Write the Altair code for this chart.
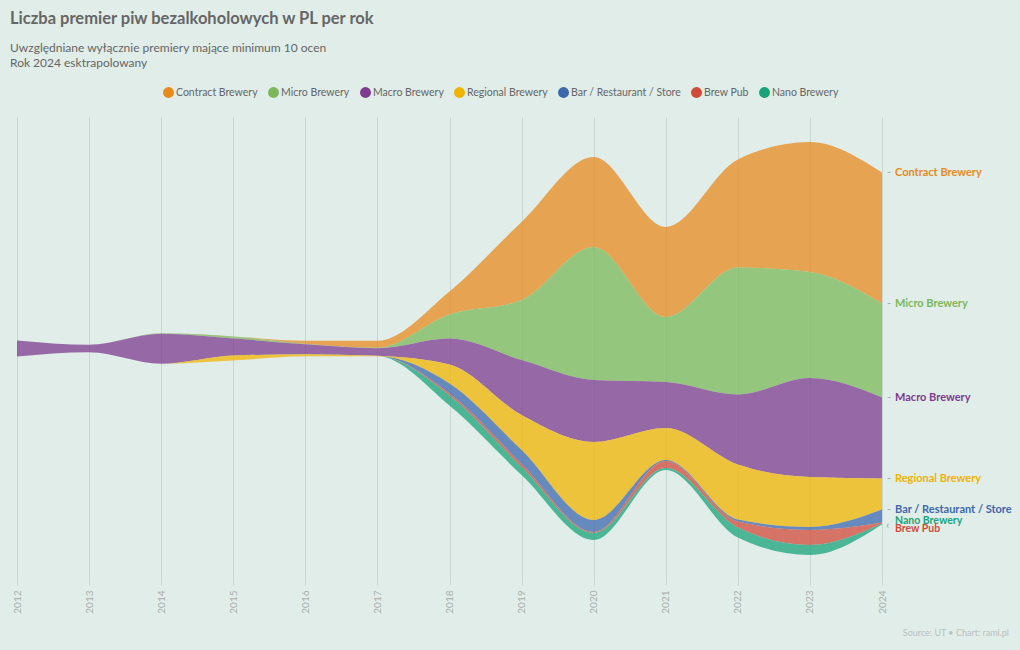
import altair as alt
import pandas as pd

FONT = "Lato"

years = list(range(2012, 2025))
categories = ["Contract Brewery", "Micro Brewery", "Macro Brewery", "Regional Brewery",
              "Bar / Restaurant / Store", "Brew Pub", "Nano Brewery"]
colors = ["#e8891e", "#7cb85a", "#7e3b8f", "#f0b400", "#3d68ad", "#d14b3a", "#1aa37a"]

contract = [0, 0, 0, 0, 3, 7, 23, 78, 90, 90, 108, 130, 131]
micro    = [0, 0, 0.5, 2, 0.5, 0.5, 24, 60, 133, 65, 127, 106, 94]
macro    = [16, 7.5, 30, 17, 10, 7.5, 26, 55, 62, 46, 70, 99, 81]
regional = [0, 0, 0, 5, 2, 0.5, 19, 35, 78, 32, 55, 50, 31]
bar      = [0, 0, 0, 0, 0, 0, 10, 14, 12, 1, 2, 3, 13]
brewpub  = [0, 0, 0, 0, 0, 0, 2, 3, 1, 7, 6, 15, 1]
nano     = [0, 0, 0, 0, 0, 0, 10, 8, 7, 2, 10, 10, 1]

TITLE = "Liczba premier piw bezalkoholowych w PL per rok"
SUB1 = "Uwzględniane wyłącznie premiery mające minimum 10 ocen"
SUB2 = "Rok 2024 esktrapolowany"
SOURCE = "Source: UT • Chart: rami.pl"

series = [contract, micro, macro, regional, bar, brewpub, nano]
rows = []
for i, (cat, vals) in enumerate(zip(categories, series)):
    for y, v in zip(years, vals):
        rows.append({"year": y, "category": cat, "value": v, "rank": i})
df = pd.DataFrame(rows)

xscale = alt.Scale(domain=[2012, 2024], nice=False, zero=False)
yscale = alt.Scale(domain=[-25, 438], nice=False, zero=False)
cscale = alt.Scale(domain=categories, range=colors)

base = alt.Chart(df).transform_stack(
    stack="value", groupby=["year"], as_=["y0", "y1"], offset="center",
    sort=[alt.SortField("rank", order="descending")]
)

area = base.mark_area(interpolate="monotone", opacity=0.75).encode(
    x=alt.X("year:Q", scale=xscale, title=None,
            axis=alt.Axis(values=years, format="d", labelAngle=270, grid=True,
                          gridColor="#c8d7d3", tickColor="#c8d7d3", tickSize=5,
                          domain=False, labelColor="#a9b0ae", labelFont=FONT,
                          labelFontSize=10, labelPadding=5)),
    y=alt.Y("y0:Q", scale=yscale, axis=None),
    y2="y1:Q",
    color=alt.Color("category:N", scale=cscale, title=None,
                    legend=alt.Legend(orient="none", direction="horizontal", columns=7,
                                      legendX=146, legendY=-30, symbolType="circle",
                                      symbolSize=120, symbolOpacity=1, symbolStrokeWidth=0,
                                      labelFont=FONT, labelFontSize=10.5, labelColor="#666666",
                                      labelOffset=2, columnPadding=10)),
    order=alt.Order("rank:Q", sort="descending"),
)

end = base.transform_filter("datum.year == 2024")
main_cats = categories[:5]

labels_main = end.transform_filter(
    alt.FieldOneOfPredicate(field="category", oneOf=main_cats)
).mark_text(align="left", baseline="middle", dx=13, font=FONT, fontSize=11,
            fontWeight="bold").encode(
    x=alt.X("year:Q", scale=xscale),
    y=alt.Y("y1:Q", scale=yscale),
    text="category:N",
    color=alt.Color("category:N", scale=cscale, legend=None),
)

dashes = end.transform_filter(
    alt.FieldOneOfPredicate(field="category", oneOf=main_cats)
).mark_text(align="left", baseline="middle", dx=5, font=FONT, fontSize=11,
            color="#a0a8a6").encode(
    x=alt.X("year:Q", scale=xscale),
    y=alt.Y("y1:Q", scale=yscale),
    text=alt.value("-"),
)

label_nano = end.transform_filter(alt.datum.category == "Nano Brewery").mark_text(
    align="left", baseline="middle", dx=13, dy=-3, font=FONT, fontSize=10.5,
    fontWeight="bold").encode(
    x=alt.X("year:Q", scale=xscale),
    y=alt.Y("y1:Q", scale=yscale),
    text="category:N",
    color=alt.Color("category:N", scale=cscale, legend=None),
)

label_pub = end.transform_filter(alt.datum.category == "Brew Pub").mark_text(
    align="left", baseline="middle", dx=13, dy=6, font=FONT, fontSize=10.5,
    fontWeight="bold").encode(
    x=alt.X("year:Q", scale=xscale),
    y=alt.Y("y1:Q", scale=yscale),
    text="category:N",
    color=alt.Color("category:N", scale=cscale, legend=None),
)

chevron = end.transform_filter(alt.datum.category == "Nano Brewery").mark_text(
    align="left", baseline="middle", dx=4, dy=1, font=FONT, fontSize=12,
    color="#a0a8a6").encode(
    x=alt.X("year:Q", scale=xscale),
    y=alt.Y("y1:Q", scale=yscale),
    text=alt.value("‹"),
)

hdr = pd.DataFrame({"k": [0]})
title = alt.Chart(hdr).mark_text(align="left", baseline="middle", font=FONT, fontSize=16.5,
                                 fontWeight="bold", color="#666666").encode(
    x=alt.value(-7), y=alt.value(-98), text=alt.value(TITLE))
sub1 = alt.Chart(hdr).mark_text(align="left", baseline="middle", font=FONT, fontSize=12,
                                color="#666666").encode(
    x=alt.value(-7), y=alt.value(-69), text=alt.value(SUB1))
sub2 = alt.Chart(hdr).mark_text(align="left", baseline="middle", font=FONT, fontSize=12,
                                color="#666666").encode(
    x=alt.value(-7), y=alt.value(-54), text=alt.value(SUB2))
source = alt.Chart(hdr).mark_text(align="right", baseline="middle", font=FONT, fontSize=9,
                                  color="#b9c0be").encode(
    x=alt.value(992), y=alt.value(516), text=alt.value(SOURCE))

chart = alt.layer(area, dashes, labels_main, label_nano, label_pub, chevron,
                  title, sub1, sub2, source).properties(
    width=865, height=463,
    autosize=alt.AutoSizeParams(type="none"),
    padding={"left": 17, "top": 117, "right": 138, "bottom": 70},
    background="#e0ede9",
).configure_view(stroke=None)

chart.save("out.html", embed_options={"renderer": "svg", "actions": False})
